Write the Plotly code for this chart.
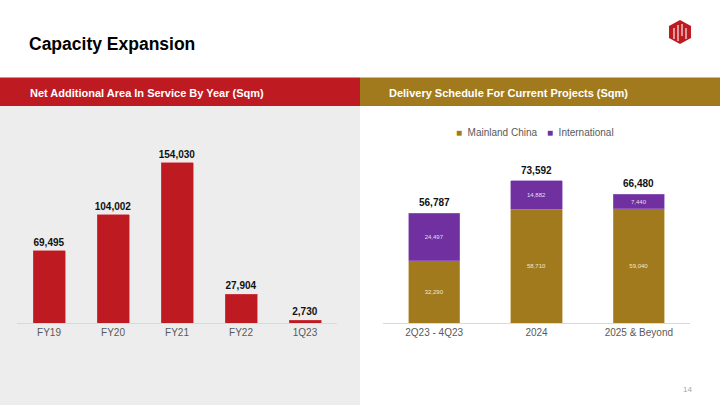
import plotly.graph_objects as go

W, H = 720, 405

# ---- data ----
years = ["FY19", "FY20", "FY21", "FY22", "1Q23"]
net_area = [69495, 104002, 154030, 27904, 2730]

periods = ["2Q23 - 4Q23", "2024", "2025 & Beyond"]
mainland = [32290, 58710, 59040]
international = [24497, 14882, 7440]
totals = [m + i for m, i in zip(mainland, international)]

series_names = ["Mainland China", "International"]

# ---- styles ----
RED = "#BE1A22"
GOLD = "#A27A1E"
PURPLE = "#7030A0"
GREYBG = "#EDEDED"
FONT = "Liberation Sans, Arial, sans-serif"

pidx = list(range(len(periods)))


def px(x):
    return x / W


def py(y):
    return 1 - y / H


fig = go.Figure()

fig.add_trace(go.Bar(
    x=years, y=net_area, marker=dict(color=RED, line=dict(color="#D24A50", width=0.6)),
    texttemplate="%{y:,.0f}", textposition="outside", cliponaxis=False, constraintext="none",
    textfont=dict(family=FONT, size=10, color="#111111", weight="bold"),
    xaxis="x", yaxis="y", showlegend=False, hoverinfo="skip",
))

fig.add_trace(go.Bar(
    x=pidx, y=mainland, name=series_names[0],
    marker=dict(color=GOLD, line=dict(color="#C4A65E", width=0.6)),
    texttemplate="%{y:,.0f}", textposition="inside", insidetextanchor="middle",
    constraintext="none",
    textangle=0, textfont=dict(family=FONT, size=6, color="#F2E8D0"),
    xaxis="x2", yaxis="y2", showlegend=False, hoverinfo="skip",
))
fig.add_trace(go.Bar(
    x=pidx, y=international, name=series_names[1],
    marker=dict(color=PURPLE, line=dict(color="#9C6CC4", width=0.6)),
    texttemplate="%{y:,.0f}", textposition="inside", insidetextanchor="middle",
    constraintext="none",
    textangle=0, textfont=dict(family=FONT, size=6, color="#E8DDF2"),
    xaxis="x2", yaxis="y2", showlegend=False, hoverinfo="skip",
))

annotations = []
for i, t in zip(pidx, totals):
    annotations.append(dict(
        x=i, y=t, xref="x2", yref="y2", text=f"<b>{t:,}</b>", showarrow=False,
        yanchor="bottom", yshift=3, font=dict(family=FONT, size=10, color="#111111"),
    ))

# title and headers
annotations += [
    dict(x=px(27), y=py(44), xref="paper", yref="paper", xanchor="left", yanchor="middle",
         text="<b>Capacity Expansion</b>", showarrow=False,
         font=dict(family=FONT, size=17.5, color="#000000")),
    dict(x=px(28), y=py(92.5), xref="paper", yref="paper", xanchor="left", yanchor="middle",
         text="<b>Net Additional Area In Service By Year (Sqm)</b>", showarrow=False,
         font=dict(family=FONT, size=11, color="#FFFFFF")),
    dict(x=px(387), y=py(92.5), xref="paper", yref="paper", xanchor="left", yanchor="middle",
         text="<b>Delivery Schedule For Current Projects (Sqm)</b>", showarrow=False,
         font=dict(family=FONT, size=11, color="#FFFFFF")),
    dict(x=px(694), y=py(389), xref="paper", yref="paper", xanchor="right", yanchor="middle",
         text="14", showarrow=False, font=dict(family=FONT, size=8, color="#A6A6A6")),
    # legend
    dict(x=px(454), y=py(132), xref="paper", yref="paper", xanchor="left", yanchor="middle",
         text=f'<span style="color:{GOLD}">■</span>  {series_names[0]}', showarrow=False,
         font=dict(family=FONT, size=10, color="#595959")),
    dict(x=px(545), y=py(132), xref="paper", yref="paper", xanchor="left", yanchor="middle",
         text=f'<span style="color:{PURPLE}">■</span>  {series_names[1]}', showarrow=False,
         font=dict(family=FONT, size=10, color="#595959")),
]

shapes = [
    dict(type="rect", xref="paper", yref="paper", x0=0, x1=px(360), y0=py(405), y1=py(106),
         fillcolor=GREYBG, line=dict(width=0), layer="below"),
    dict(type="rect", xref="paper", yref="paper", x0=0, x1=px(360), y0=py(106), y1=py(77.5),
         fillcolor=RED, line=dict(width=0), layer="below"),
    dict(type="rect", xref="paper", yref="paper", x0=px(360), x1=1, y0=py(106), y1=py(77.5),
         fillcolor=GOLD, line=dict(width=0), layer="below"),
]

# logo: red hexagon with white strokes
cx, cy = 680, 32
hexpts = [(cx, cy - 12), (cx + 11, cy - 6), (cx + 11, cy + 6), (cx, cy + 12), (cx - 11, cy + 6), (cx - 11, cy - 6)]
path = "M " + " L ".join(f"{px(x)},{py(y)}" for x, y in hexpts) + " Z"
shapes.append(dict(type="path", xref="paper", yref="paper", path=path, fillcolor=RED, line=dict(width=0)))
for (x0, y0, x1, y1) in [(cx - 6, cy - 4, cx - 6, cy + 7), (cx - 2, cy - 7, cx - 2, cy + 9),
                         (cx + 2, cy - 8, cx + 2, cy + 4), (cx + 6, cy - 4, cx + 6, cy + 7)]:
    shapes.append(dict(type="line", xref="paper", yref="paper", x0=px(x0), y0=py(y0), x1=px(x1), y1=py(y1),
                       line=dict(color="white", width=1.1)))

ydom = [py(323), py(141.2)]

fig.update_layout(
    width=W, height=H, margin=dict(l=0, r=0, t=0, b=0, autoexpand=False),
    paper_bgcolor="white", plot_bgcolor="rgba(0,0,0,0)",
    barmode="stack", bargap=0.5, showlegend=False,
    font=dict(family=FONT),
    xaxis=dict(domain=[px(17), px(337)], type="category", showline=True, linecolor="#D9D9D9",
               linewidth=1, showgrid=False, ticks="", automargin=False,
               tickfont=dict(family=FONT, size=10, color="#595959"), fixedrange=True),
    yaxis=dict(domain=ydom, range=[0, 175000], visible=False, showgrid=False, fixedrange=True,
               automargin=False),
    xaxis2=dict(domain=[px(383), px(690)], anchor="y2", type="linear", range=[-0.5, len(periods) - 0.5],
                tickvals=pidx, ticktext=periods, showline=True,
                linecolor="#D9D9D9", linewidth=1, showgrid=False, zeroline=False, ticks="",
                automargin=False,
                tickfont=dict(family=FONT, size=10, color="#595959"), fixedrange=True),
    yaxis2=dict(domain=ydom, range=[0, 94000], anchor="x2", visible=False, showgrid=False,
                fixedrange=True, automargin=False),
    annotations=annotations, shapes=shapes,
)

fig.write_html("out.html", config={"displayModeBar": False},
               post_script="document.body.style.margin='0';document.body.style.overflow='hidden';")
